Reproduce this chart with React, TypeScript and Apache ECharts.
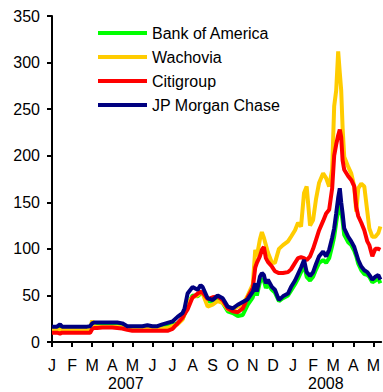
import React, { useEffect, useRef } from 'react';
import * as echarts from 'echarts';

const monthLabels = ['J', 'F', 'M', 'A', 'M', 'J', 'J', 'A', 'S', 'O', 'N', 'D', 'J', 'F', 'M', 'A', 'M'];
const yearLabels = ['2007', '2008'];
const seriesNames = ['Bank of America', 'Wachovia', 'Citigroup', 'JP Morgan Chase'];
const seriesColors = ['#00ff00', '#ffcc00', '#ff0000', '#000080'];

// time in months since 1 Jan 2007
const t = [
  0, 0.25, 0.4, 0.5, 0.75, 1, 1.25, 1.5, 1.75, 1.9,
  2, 2.1, 2.25, 2.5, 2.75, 3, 3.25, 3.5, 3.75, 4,
  4.25, 4.5, 4.75, 5, 5.25, 5.5, 5.75, 6, 6.25, 6.5,
  6.6, 6.75, 7, 7.25, 7.4, 7.5, 7.75, 8, 8.25, 8.5,
  8.75, 9, 9.25, 9.5, 9.75, 10, 10.12, 10.2, 10.35, 10.45,
  10.55, 10.65, 10.75, 10.95, 11.1, 11.3, 11.5, 11.75, 11.9, 12.1,
  12.25, 12.4, 12.55, 12.68, 12.85, 13, 13.15, 13.3, 13.5, 13.65,
  13.8, 13.95, 14.05, 14.15, 14.25, 14.33, 14.4, 14.47, 14.55, 14.75,
  14.9, 15.05, 15.15, 15.25, 15.4, 15.55, 15.7, 15.8, 15.95, 16.1,
  16.25, 16.35,
];

const bankOfAmerica = [
  14, 14, 14, 14, 14, 14, 14, 14, 14, 15,
  17, 17, 18, 18, 18.5, 18.5, 18, 17, 16, 16,
  16, 16, 16, 16, 16, 16, 17, 18, 20, 25,
  30, 40, 50, 49, 52, 52, 44, 43, 47, 42,
  33, 31, 28, 29, 40, 48, 58, 50, 64, 68,
  66, 58, 62, 56, 53, 44, 47, 50, 55, 62,
  68, 75, 83, 70, 66, 70, 78, 85, 88, 85,
  90, 103, 113, 128, 142, 147, 140, 130, 115, 107,
  104, 98, 92, 84, 77, 73, 72, 70, 64, 66,
  68, 63,
];

const wachovia = [
  13, 13, 13, 13, 13, 13, 13, 13, 13, 14,
  23, 17, 16, 16, 16, 16, 16, 15.5, 14.5, 14,
  14, 14, 14, 14, 14, 14.5, 15, 17, 19, 24,
  30, 42, 48, 50, 53, 52, 38, 40, 44, 42,
  35, 35, 38, 40, 50, 62, 99, 92, 110, 118,
  112, 104, 96, 85, 85, 100, 104, 108, 113, 120,
  128, 124, 160, 167, 125, 131, 154, 171, 181, 176,
  167, 185, 253, 270, 312, 289, 270, 230, 199, 188,
  181, 167, 140, 165, 170, 167, 140, 122, 113, 113,
  117, 124,
];

const citigroup = [
  10, 10, 9, 10, 10, 10, 10, 10, 10, 10,
  14, 15, 15, 15.5, 15.5, 15.5, 15, 14.5, 13, 12,
  12, 12, 12, 12, 12, 12, 12, 14, 20, 26,
  30, 35, 48, 52, 54, 53, 46, 48, 49, 45,
  36, 33, 32, 36, 48, 58, 80, 85, 92, 99,
  102, 90, 86, 81, 76, 74, 74, 75, 78, 85,
  90, 91, 90, 88, 92, 100, 110, 120, 130, 138,
  142, 165, 200, 212, 222, 228, 220, 195, 185, 178,
  174, 167, 145, 135, 128, 120, 108, 104, 92, 100,
  100, 99,
];

const jpMorganChase = [
  16.5, 16.5, 19, 16.5, 16.5, 16.5, 16.5, 16.5, 16.5, 17,
  20, 21, 21, 21, 21, 21, 21, 20, 17, 17,
  17, 17, 18, 17, 17, 19, 20.5, 22, 27, 31,
  36, 52, 59, 56, 61, 59, 47, 45, 50, 47,
  38, 36, 40, 43, 46, 54, 63, 54, 70, 74,
  72, 63, 67, 59, 56, 45, 49, 52, 59, 66,
  73, 80, 88, 75, 71, 75, 84, 92, 97, 92,
  99, 112, 122, 138, 155, 165, 150, 138, 122, 113,
  108, 102, 95, 88, 81, 77, 75, 72, 67, 70,
  72, 67,
];

const allValues = [bankOfAmerica, wachovia, citigroup, jpMorganChase];
const monthTicks = monthLabels.map((_, i) => i);

export default function App() {
  const ref = useRef<HTMLDivElement>(null);
  useEffect(() => {
    const chart = echarts.init(ref.current!, null, { renderer: 'svg' });
    const font = "'Liberation Sans', Arial, sans-serif";
    const yearStyle = { fontSize: 16, lineHeight: 16, fontFamily: font, fill: '#000' };
    chart.setOption({
      animation: false,
      textStyle: { fontFamily: font },
      grid: { left: 52, right: 0, top: 16, bottom: 50, containLabel: false },
      legend: {
        orient: 'vertical',
        left: 98,
        top: 25,
        padding: 0,
        itemWidth: 49,
        itemHeight: 4,
        itemGap: 8,
        icon: 'rect',
        selectedMode: false,
        textStyle: { fontFamily: font, fontSize: 16, color: '#000' },
        data: seriesNames,
      },
      xAxis: {
        type: 'value',
        min: 0,
        max: 16.39,
        splitLine: { show: false },
        axisLine: { show: true, lineStyle: { color: '#000', width: 2 } },
        axisTick: { show: true, length: 5, customValues: monthTicks, lineStyle: { color: '#000', width: 2 } },
        axisLabel: {
          customValues: monthTicks,
          margin: 15,
          fontSize: 16,
          color: '#000',
          fontFamily: font,
          formatter: (v: number) => monthLabels[Math.round(v)] ?? '',
        },
      },
      yAxis: {
        type: 'value',
        min: 0,
        max: 350,
        interval: 50,
        splitLine: { show: false },
        axisLine: { show: true, lineStyle: { color: '#000', width: 2 } },
        axisTick: { show: true, length: 5, lineStyle: { color: '#000', width: 2 } },
        axisLabel: { margin: 12, fontSize: 16, color: '#000', fontFamily: font },
      },
      graphic: [
        { type: 'text', left: 108, top: 375, style: { text: yearLabels[0], ...yearStyle } },
        { type: 'text', left: 308, top: 375, style: { text: yearLabels[1], ...yearStyle } },
      ],
      series: seriesNames.map((name, k) => ({
        name,
        type: 'line',
        data: t.map((x, i) => [x, allValues[k][i]]),
        showSymbol: false,
        symbol: 'none',
        color: seriesColors[k],
        lineStyle: { width: 4, color: seriesColors[k] },
      })),
    });
    return () => chart.dispose();
  }, []);
  return <div ref={ref} style={{ position: 'absolute', left: 0, top: 0, width: 383, height: 392 }} />;
}
